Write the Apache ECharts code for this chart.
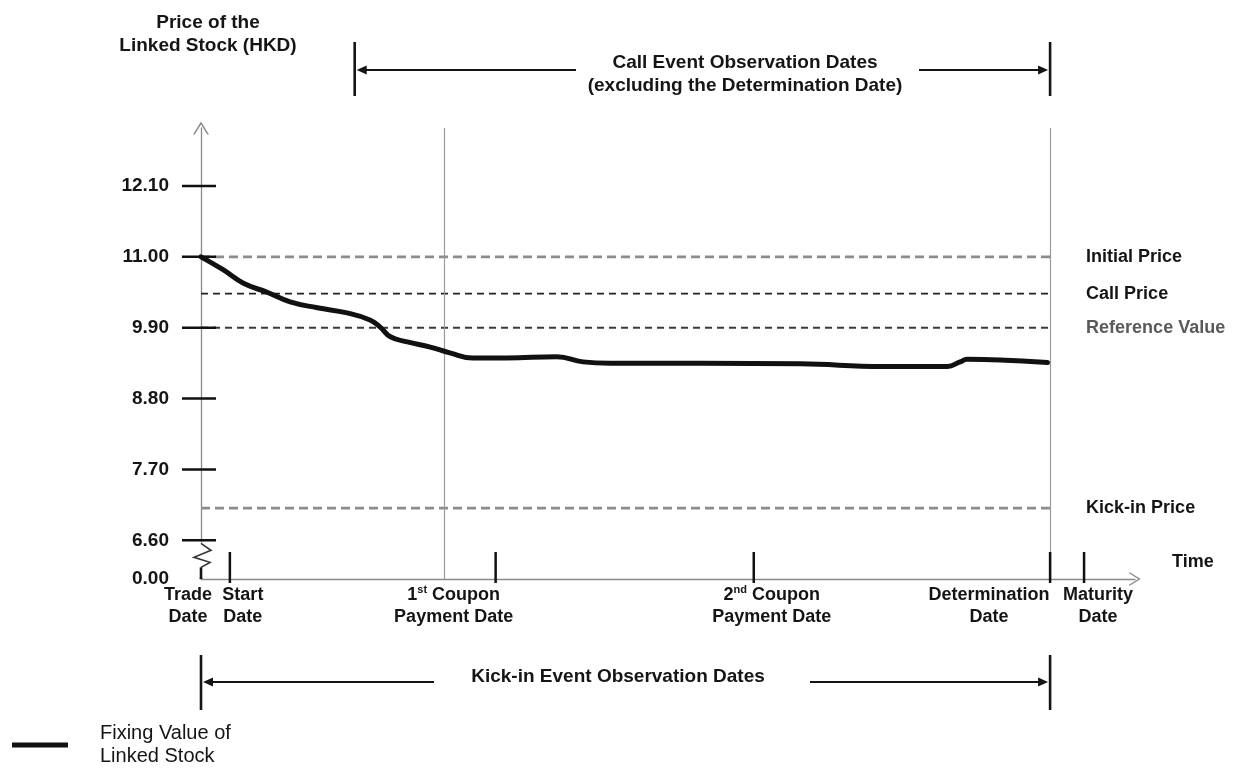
<!DOCTYPE html>
<html>
<head>
<meta charset="utf-8">
<title>Linked Stock Price Diagram</title>
<script src="https://cdn.jsdelivr.net/npm/echarts@6.0.0/dist/echarts.min.js"></script>
<style>
html,body{margin:0;padding:0;background:#ffffff;}
#chart{width:1239px;height:771px;}
</style>
</head>
<body>
<div id="chart"></div>
<script>
// ---------------- data ----------------
const yAxisBase = 6.0;   // bottom of the broken axis, labelled 0.00
const yAxisMax = 13.0;
const yTickValues = [6.0, 6.6, 7.7, 8.8, 9.9, 11.0, 12.1];
const yTickLabels = ['0.00', '6.60', '7.70', '8.80', '9.90', '11.00', '12.10'];

const timeMax = 110;
const dateLabels = ['Trade\nDate', 'Start\nDate', '1st Coupon\nPayment Date', '2nd Coupon\nPayment Date', 'Determination\nDate', 'Maturity\nDate'];
const dateValues = [0, 3.4, 34.7, 65.1, 100, 104];

const callObsStart = 18.1;
const callObsLine = 28.7;
const determinationTime = 100;

const levelNames = ['Initial Price', 'Call Price', 'Reference Value', 'Kick-in Price'];
const levelValues = [11.00, 10.43, 9.90, 7.10];

const priceName = 'Fixing Value of Linked Stock';
const priceTimes = [0, 2.6, 5.0, 7.8, 10.5, 13.7, 17.2, 19.9, 21.1, 22.3, 24.3, 27.0, 29.3, 32.0, 36.0, 41.9, 45.0, 48.2, 58.8, 70.6, 80.3, 87.9, 89.4, 90.2, 94.1, 99.7];
const priceValues = [11.00, 10.80, 10.59, 10.45, 10.30, 10.21, 10.13, 10.02, 9.91, 9.76, 9.68, 9.60, 9.51, 9.43, 9.43, 9.45, 9.37, 9.35, 9.35, 9.34, 9.30, 9.30, 9.37, 9.41, 9.40, 9.36];

// ---------------- layout / style ----------------
const FONT = '"Liberation Sans", Arial, Helvetica, sans-serif';
const INK = '#151515';
const CHEVRON = 'path://M0,13 L8,0 L16,13 L14.3,13 L8,2.9 L1.7,13 Z';
const dateLabelDx = [-13, 13, -42, 18, -61, 14];
const levelStyles = [
  {color: '#8c8c8c', width: 2.6, dash: [9, 5], label: INK},
  {color: '#222222', width: 1.6, dash: [7, 5], label: INK},
  {color: '#3a3a3a', width: 2.0, dash: [7, 5], label: '#5a5a5a'},
  {color: '#8c8c8c', width: 2.6, dash: [9, 5], label: INK}
];

function richDate(s) {
  return s.split('\n').map(function (line) {
    const m = line.match(/^(\d)(st|nd|rd|th) (.*)$/);
    return m ? '{b|' + m[1] + '}{s|' + m[2] + '}{b| ' + m[3] + '}' : '{b|' + line + '}';
  }).join('\n');
}

const chart = echarts.init(document.getElementById('chart'));

const levelSeries = levelValues.map(function (v, i) {
  const st = levelStyles[i];
  return {
    type: 'line', name: levelNames[i], z: 2, silent: true,
    data: [[0, v], [determinationTime, v]],
    showSymbol: false, symbol: 'none',
    lineStyle: {color: st.color, width: st.width, type: st.dash},
    endLabel: {
      show: true, distance: 36,
      formatter: function () { return levelNames[i]; },
      fontFamily: FONT, fontSize: 18, fontWeight: 'bold', color: st.label
    }
  };
});

const xTickData = dateValues.map(function (t, i) {
  const isTrade = i === 0;
  return {
    value: [t, yAxisBase],
    symbolSize: isTrade ? [2.6, 11] : [2.5, 31],
    symbolOffset: isTrade ? [0, -5.5] : [0, -11.5],
    label: {offset: [dateLabelDx[i], isTrade ? 10.5 : 16.5]}
  };
});

const yTickData = yTickValues.slice(1).map(function (v) { return [0, v]; });

const option = {
  animation: false,
  backgroundColor: '#ffffff',
  grid: {left: 201, right: 104, top: 128, bottom: 192, containLabel: false, outerBoundsMode: 'none'},
  legend: {
    data: [priceName], left: 7, top: 712, icon: 'rect', itemWidth: 56, itemHeight: 5,
    formatter: function () { return 'Fixing Value of\nLinked Stock'; },
    textStyle: {fontFamily: FONT, fontSize: 20, color: INK, lineHeight: 23, padding: [10, 0, 0, 27]}
  },
  xAxis: {
    type: 'value', min: 0, max: timeMax,
    splitLine: {show: false}, axisTick: {show: false}, axisLabel: {show: false},
    axisLine: {show: true, onZero: false, symbol: ['none', CHEVRON], symbolSize: [14, 12],
      lineStyle: {color: '#8a8a8a', width: 1.3}},
    name: 'Time', nameLocation: 'end', nameGap: 37,
    nameTextStyle: {fontFamily: FONT, fontSize: 18, fontWeight: 'bold', color: INK,
      verticalAlign: 'bottom', padding: [0, 0, 8, 0]}
  },
  yAxis: {
    type: 'value', min: yAxisBase, max: yAxisMax,
    splitLine: {show: false}, axisTick: {show: false},
    axisLine: {show: true, onZero: false, symbol: ['none', CHEVRON], symbolSize: [16, 13],
      lineStyle: {color: '#8a8a8a', width: 1.3}},
    axisLabel: {
      customValues: yTickValues,
      formatter: function (v) {
        for (let i = 0; i < yTickValues.length; i++) {
          if (Math.abs(yTickValues[i] - v) < 1e-6) return yTickLabels[i];
        }
        return '';
      },
      margin: 32, fontFamily: FONT, fontSize: 19, fontWeight: 'bold', color: INK
    }
  },
  series: levelSeries.concat([
    {
      type: 'line', name: priceName, z: 5,
      data: priceTimes.map(function (t, i) { return [t, priceValues[i]]; }),
      showSymbol: false, symbol: 'none', smooth: 0.45,
      itemStyle: {color: '#111111'},
      lineStyle: {color: '#111111', width: 5, cap: 'round', join: 'round'},
      markLine: {
        silent: true, symbol: 'none', label: {show: false},
        lineStyle: {color: '#9a9a9a', width: 1.2, type: 'solid'},
        data: [{xAxis: callObsLine}, {xAxis: determinationTime}]
      }
    },
    {
      type: 'scatter', name: 'dateTicks', z: 6, silent: true, clip: false,
      symbol: 'rect', itemStyle: {color: '#111111', opacity: 1},
      data: xTickData,
      label: {
        show: true, position: 'inside', align: 'center', verticalAlign: 'top',
        color: INK, textBorderWidth: 0, opacity: 1,
        formatter: function (p) { return richDate(dateLabels[p.dataIndex]); },
        rich: {
          b: {fontFamily: FONT, fontSize: 18, fontWeight: 'bold', color: INK, lineHeight: 22, textBorderWidth: 0},
          s: {fontFamily: FONT, fontSize: 11, fontWeight: 'bold', color: INK, lineHeight: 13, verticalAlign: 'top', textBorderWidth: 0}
        }
      }
    },
    {
      type: 'scatter', name: 'valueTicks', z: 6, silent: true, clip: false,
      symbol: 'rect', symbolSize: [34, 2.5], symbolOffset: [-2, 0],
      itemStyle: {color: '#111111', opacity: 1},
      data: yTickData
    }
  ])
};

chart.setOption(option);

// ---------------- annotations (positioned through the chart's scales) ----------------
function px(t, v) { return chart.convertToPixel({gridIndex: 0}, [t, v]); }
const axisX = px(0, yAxisBase)[0];
const y66 = px(0, yTickValues[1])[1];
const y0 = px(0, yAxisBase)[1];
const callL = px(callObsStart, yAxisBase)[0];
const detX = px(determinationTime, yAxisBase)[0];

const topBr = {y: 70, top: 42, bottom: 96, textX: 745, textY: 74, gapL: 576, gapR: 919};
const botBr = {y: 682, top: 655, bottom: 710, textX: 618, textY: 677, gapL: 434, gapR: 810};

function bracket(b, xl, xr) {
  const els = [];
  const bar = {stroke: INK, lineWidth: 2.6};
  const ln = {stroke: INK, lineWidth: 2};
  els.push({type: 'line', z: 100, shape: {x1: xl, y1: b.top, x2: xl, y2: b.bottom}, style: bar});
  els.push({type: 'line', z: 100, shape: {x1: xr, y1: b.top, x2: xr, y2: b.bottom}, style: bar});
  els.push({type: 'line', z: 100, shape: {x1: xl + 8, y1: b.y, x2: b.gapL, y2: b.y}, style: ln});
  els.push({type: 'line', z: 100, shape: {x1: b.gapR, y1: b.y, x2: xr - 8, y2: b.y}, style: ln});
  els.push({type: 'polygon', z: 100, shape: {points: [[xl + 2, b.y], [xl + 12, b.y - 4.5], [xl + 12, b.y + 4.5]]}, style: {fill: INK}});
  els.push({type: 'polygon', z: 100, shape: {points: [[xr - 2, b.y], [xr - 12, b.y - 4.5], [xr - 12, b.y + 4.5]]}, style: {fill: INK}});
  return els;
}

function label(x, y, text, size, weight) {
  return {
    type: 'text', z: 100, x: x, y: y,
    style: {text: text, fontFamily: FONT, fontSize: size, fontWeight: weight || 'bold', fill: INK,
      align: 'center', verticalAlign: 'middle', textAlign: 'center', textVerticalAlign: 'middle', lineHeight: 23}
  };
}

const graphics = []
  .concat(bracket(topBr, callL, detX))
  .concat(bracket(botBr, axisX, detX))
  .concat([
    label(topBr.textX, topBr.textY, 'Call Event Observation Dates\n(excluding the Determination Date)', 19),
    label(botBr.textX, botBr.textY, 'Kick-in Event Observation Dates', 19),
    label(208, 34, 'Price of the\nLinked Stock (HKD)', 19),
    // axis break
    {type: 'rect', z: 90, shape: {x: axisX - 2.5, y: y66 + 2, width: 5, height: y0 - y66 - 3}, style: {fill: '#ffffff'}},
    {type: 'polyline', z: 100, shape: {points: [[axisX, y66 + 3], [axisX + 10, y66 + 10], [axisX - 7, y66 + 17], [axisX + 9, y66 + 22], [axisX, y66 + 27]]},
      style: {stroke: '#333333', lineWidth: 1.6, fill: null}},
    {type: 'line', z: 100, shape: {x1: axisX, y1: y66 + 27, x2: axisX, y2: y0}, style: {stroke: INK, lineWidth: 2.6}}
  ]);

chart.setOption({graphic: {elements: graphics}});
</script>
</body>
</html>
